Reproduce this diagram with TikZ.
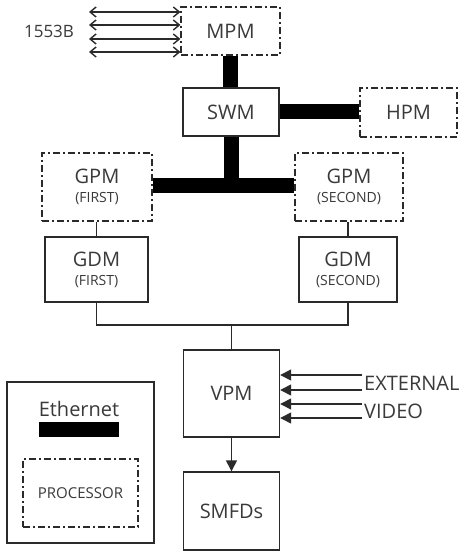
\documentclass[tikz,border=0pt]{standalone}
\usepackage{fontspec}
\setmainfont{Open Sans}
\usetikzlibrary{arrows.meta}
\definecolor{ink}{HTML}{2A2A2A}
\definecolor{txt}{HTML}{3A3A3A}
\newcommand{\sublbl}[1]{{\fontsize{14}{15}\selectfont #1}}
\tikzset{
  x=1pt, y=-1pt,
  box/.style={draw=ink, line width=1.4pt, inner sep=0pt, text=txt, align=center,
              font=\fontsize{20}{22}\selectfont},
  solidbox/.style={box},
  dashbox/.style={box, line width=1.2pt, dash pattern=on 7pt off 3pt on 2pt off 3pt},
  eth/.style={line width=15pt, black},
  thin/.style={draw=ink, line width=1.4pt},
  busarrow/.style={thin, {Straight Barb[length=6pt,width=10pt]}-{Straight Barb[length=6pt,width=10pt]}},
  inarrow/.style={thin, -{Triangle[length=11pt,width=11pt]}},
  lbl/.style={text=txt, inner sep=0pt, font=\fontsize{20}{22}\selectfont}
}
\begin{document}
\begin{tikzpicture}
\useasboundingbox (0,0) rectangle (469,553);
\fill[white] (0,0) rectangle (469,553);

% boxes
\node[dashbox, minimum width=99pt, minimum height=48pt] (mpm) at (230.5,31) {MPM};
\node[solidbox, minimum width=96pt, minimum height=48pt] (swm) at (231,112) {SWM};
\node[dashbox, minimum width=97pt, minimum height=49pt] (hpm) at (408.5,112.5) {HPM};
\node[dashbox, minimum width=110pt, minimum height=68pt] (gpm1) at (97,187)
  {GPM\\[-3pt]\sublbl{(FIRST)}};
\node[dashbox, minimum width=108pt, minimum height=68pt] (gpm2) at (349,187)
  {GPM\\[-3pt]\sublbl{(SECOND)}};
\node[solidbox, minimum width=103pt, minimum height=65pt] (gdm1) at (96.5,269.5)
  {GDM\\[-3pt]\sublbl{(FIRST)}};
\node[solidbox, minimum width=98pt, minimum height=65pt] (gdm2) at (348,269.5)
  {GDM\\[-3pt]\sublbl{(SECOND)}};
\node[solidbox, minimum width=96pt, minimum height=87pt] (vpm) at (231.5,393.5) {VPM};
\node[solidbox, minimum width=96pt, minimum height=78pt] (smfd) at (231.5,511) {SMFDs};

% ethernet links
\draw[eth] (mpm.south) -- (swm.north -| mpm.south);
\draw[eth] (swm.east) -- (swm.east -| hpm.west);
\coordinate (bus) at (231,186);
\draw[eth] (gpm1.east |- bus) -- (gpm2.west |- bus);
\draw[eth] (swm.south) -- (bus);

% thin links
\draw[thin] (gdm1.north) -- (gdm1.north |- gpm1.south);
\draw[thin] (gdm2.north) -- (gdm2.north |- gpm2.south);
\coordinate (j) at (vpm.north |- 0,325);
\draw[thin] (gdm1.south) |- (j) -| (gdm2.south);
\draw[thin] (j) -- (vpm.north);
\draw[inarrow] (vpm.south) -- (smfd.north);

% 1553B bus arrows
\node[lbl, font=\fontsize{17}{19}\selectfont] (b1553) at (49,31) {1553B};
\foreach \yy [count=\i] in {12,25,39,52} {
  \coordinate (l\i) at (89,\yy);
  \draw[busarrow] (l\i) -- (l\i -| mpm.west);
}

% external video
\foreach \yy [count=\i] in {375,390,404,418} {
  \coordinate (e\i) at (362,\yy);
  \draw[inarrow] (e\i) -- (e\i -| vpm.east);
}
\node[lbl, anchor=west] (ext) at (364,383) {EXTERNAL};
\node[lbl, anchor=west] (vid) at (364,411) {VIDEO};

% legend
\node[solidbox, minimum width=147pt, minimum height=161pt] (legend) at (80.5,462.5) {};
\node[lbl] (ethtxt) at (79,409) {Ethernet};
\node[fill=black, minimum width=80pt, minimum height=15pt, inner sep=0pt] (ethbar) at (79,429.5) {};
\node[dashbox, minimum width=115pt, minimum height=68pt, font=\fontsize{15}{16}\selectfont] (proc) at (80.5,493) {PROCESSOR};
\end{tikzpicture}
\end{document}
